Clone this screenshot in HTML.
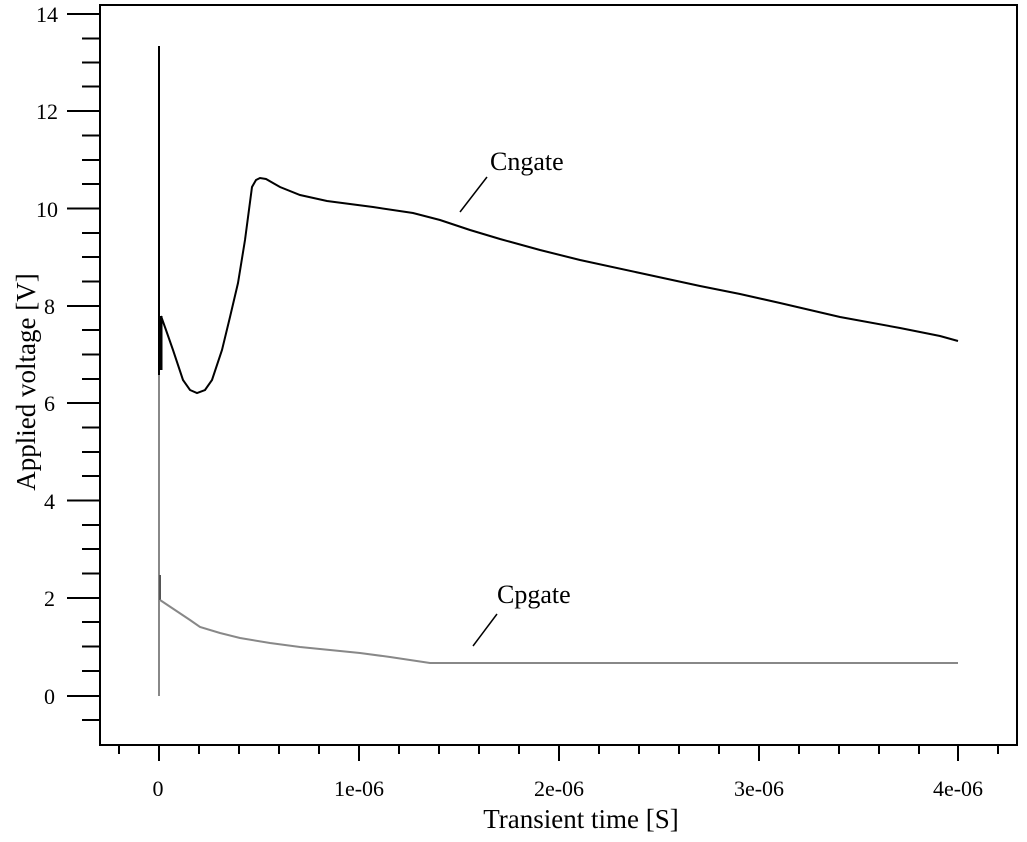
<!DOCTYPE html>
<html><head><meta charset="utf-8"><style>
html,body{margin:0;padding:0;background:#fff;}
svg{display:block;}
text{font-family:"Liberation Serif",serif;fill:#000;}
</style></head><body>
<svg width="1027" height="842" viewBox="0 0 1027 842">
<rect x="100" y="5" width="917" height="740" fill="none" stroke="#000" stroke-width="2"/>
<g stroke="#000" stroke-width="2">
<line x1="67" y1="14" x2="100" y2="14"/><line x1="82" y1="38.5" x2="100" y2="38.5"/><line x1="82" y1="62.5" x2="100" y2="62.5"/><line x1="82" y1="86.5" x2="100" y2="86.5"/>
<line x1="67" y1="111" x2="100" y2="111"/><line x1="82" y1="135.5" x2="100" y2="135.5"/><line x1="82" y1="160" x2="100" y2="160"/><line x1="82" y1="184" x2="100" y2="184"/>
<line x1="67" y1="208.5" x2="100" y2="208.5"/><line x1="82" y1="233" x2="100" y2="233"/><line x1="82" y1="257" x2="100" y2="257"/><line x1="82" y1="281.5" x2="100" y2="281.5"/>
<line x1="67" y1="306" x2="100" y2="306"/><line x1="82" y1="330" x2="100" y2="330"/><line x1="82" y1="354.5" x2="100" y2="354.5"/><line x1="82" y1="379" x2="100" y2="379"/>
<line x1="67" y1="403" x2="100" y2="403"/><line x1="82" y1="427.5" x2="100" y2="427.5"/><line x1="82" y1="452" x2="100" y2="452"/><line x1="82" y1="476" x2="100" y2="476"/>
<line x1="67" y1="500.5" x2="100" y2="500.5"/><line x1="82" y1="525" x2="100" y2="525"/><line x1="82" y1="549" x2="100" y2="549"/><line x1="82" y1="573.5" x2="100" y2="573.5"/>
<line x1="67" y1="598" x2="100" y2="598"/><line x1="82" y1="622" x2="100" y2="622"/><line x1="82" y1="646.5" x2="100" y2="646.5"/><line x1="82" y1="671" x2="100" y2="671"/>
<line x1="67" y1="696" x2="100" y2="696"/><line x1="82" y1="720" x2="100" y2="720"/>
</g>
<g stroke="#000" stroke-width="2">
<line x1="119" y1="745" x2="119" y2="754"/><line x1="159" y1="745" x2="159" y2="761"/><line x1="199" y1="745" x2="199" y2="754"/><line x1="239" y1="745" x2="239" y2="754"/><line x1="279" y1="745" x2="279" y2="754"/><line x1="319" y1="745" x2="319" y2="754"/>
<line x1="359" y1="745" x2="359" y2="761"/><line x1="399" y1="745" x2="399" y2="754"/><line x1="439" y1="745" x2="439" y2="754"/><line x1="479" y1="745" x2="479" y2="754"/><line x1="519" y1="745" x2="519" y2="754"/>
<line x1="559" y1="745" x2="559" y2="761"/><line x1="599" y1="745" x2="599" y2="754"/><line x1="639" y1="745" x2="639" y2="754"/><line x1="679" y1="745" x2="679" y2="754"/><line x1="719" y1="745" x2="719" y2="754"/>
<line x1="759" y1="745" x2="759" y2="761"/><line x1="799" y1="745" x2="799" y2="754"/><line x1="839" y1="745" x2="839" y2="754"/><line x1="879" y1="745" x2="879" y2="754"/><line x1="919" y1="745" x2="919" y2="754"/>
<line x1="958" y1="745" x2="958" y2="761"/><line x1="998" y1="745" x2="998" y2="754"/>
</g>
<g font-size="22" text-anchor="end">
<text x="58" y="22">14</text><text x="58" y="119">12</text><text x="58" y="217">10</text>
<text x="55" y="314">8</text><text x="55" y="411">6</text><text x="55" y="509">4</text>
<text x="55" y="606">2</text><text x="55" y="704">0</text>
</g>
<g font-size="22" text-anchor="middle">
<text x="158" y="796">0</text><text x="359" y="796">1e-06</text><text x="559" y="796">2e-06</text>
<text x="759" y="796">3e-06</text><text x="958" y="796">4e-06</text>
</g>
<text x="581" y="828" font-size="27" text-anchor="middle">Transient time [S]</text>
<text transform="translate(35,382) rotate(-90)" font-size="27" text-anchor="middle">Applied voltage [V]</text>
<line x1="159" y1="696" x2="159" y2="375" stroke="#888" stroke-width="2"/>
<line x1="160" y1="575" x2="160" y2="600" stroke="#555" stroke-width="2"/>
<polyline fill="none" stroke="#888" stroke-width="2" points="160,600 175,610 190,620 200,627 220,633 240,638 270,643 300,647 330,650 360,653 390,657 430,663 958,663"/>
<line x1="159" y1="375" x2="159" y2="46" stroke="#000" stroke-width="2"/>
<line x1="161" y1="316" x2="161" y2="370" stroke="#000" stroke-width="3"/>
<polyline fill="none" stroke="#000" stroke-width="2" points="161,316 166,330 173,350 183,380 190,390 197,393 205,390 212,380 222,350 230,317 238,283 245,240 252,187 256,180 260,178 266,179 273,183 280,187 300,195 327,201 373,207 413,213 440,220 470,230 500,239 540,250 580,260 640,273 700,286 740,294 780,303 840,317 900,328 940,336 958,341"/>
<text x="490" y="170" font-size="26">Cngate</text>
<line x1="460" y1="212" x2="487" y2="177" stroke="#000" stroke-width="1.5"/>
<text x="497" y="603" font-size="26">Cpgate</text>
<line x1="473" y1="646" x2="497" y2="614" stroke="#000" stroke-width="1.5"/>
</svg>
</body></html>
